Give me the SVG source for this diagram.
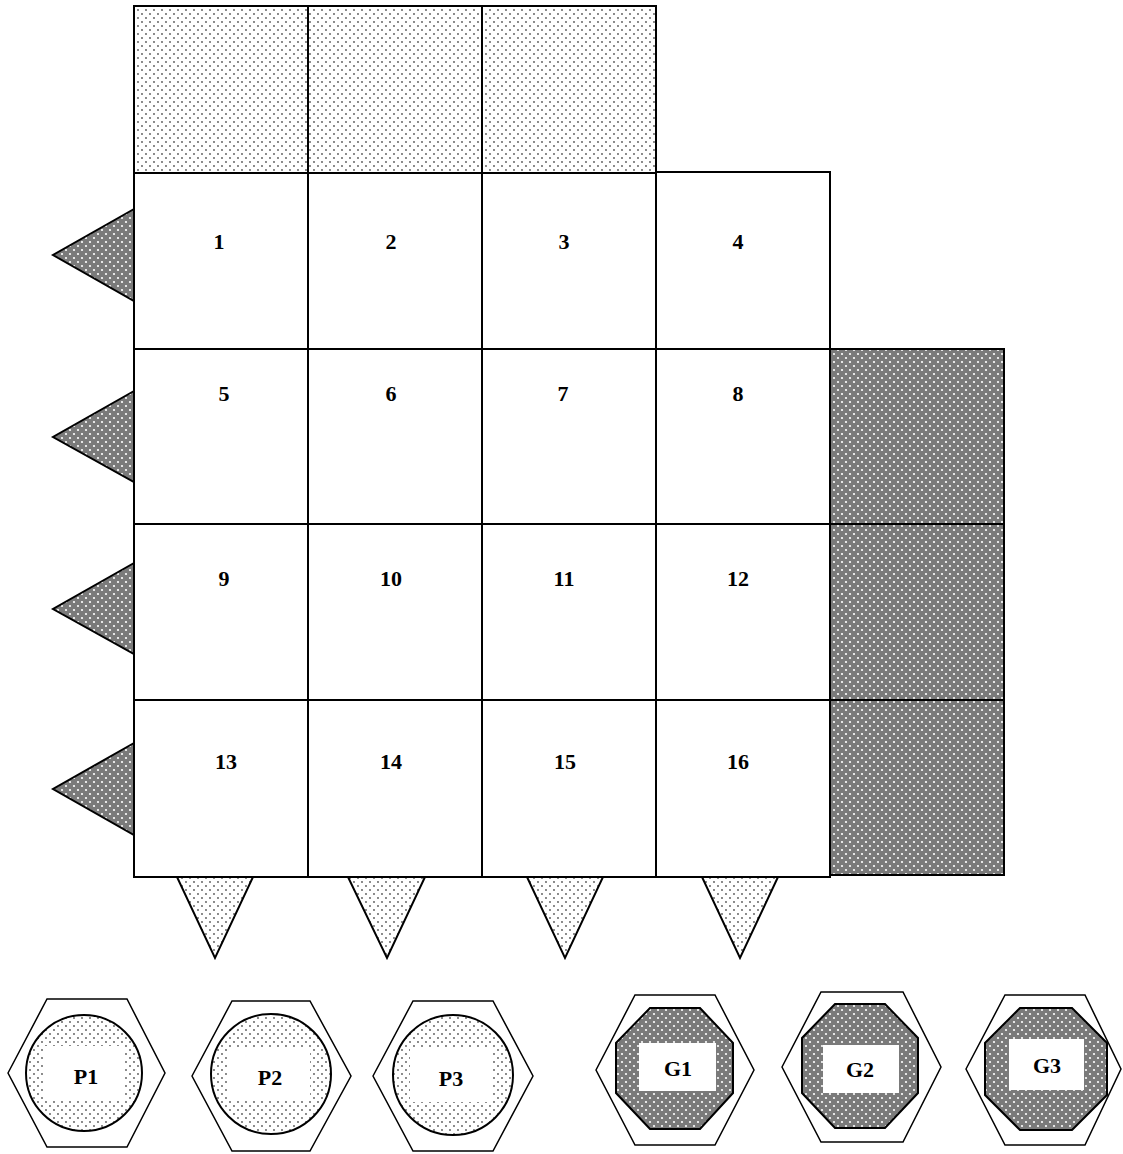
<svg xmlns="http://www.w3.org/2000/svg" width="1123" height="1154" viewBox="0 0 1123 1154">
<defs>
<pattern id="light" width="8" height="8" patternUnits="userSpaceOnUse">
<rect width="8" height="8" fill="#ffffff"/>
<circle cx="2" cy="2" r="0.9" fill="#555"/>
<circle cx="6" cy="6" r="0.9" fill="#555"/>
</pattern>
<pattern id="dark" width="8" height="8" patternUnits="userSpaceOnUse">
<rect width="8" height="8" fill="#7a7a7a"/>
<circle cx="2" cy="2" r="1.1" fill="#ffffff"/>
<circle cx="6" cy="6" r="1.1" fill="#ffffff"/>
</pattern>
</defs>
<style>
.cell{fill:#ffffff;stroke:#000;stroke-width:2}
.lt{fill:url(#light);stroke:#000;stroke-width:2}
.dk{fill:url(#dark);stroke:#000;stroke-width:2}
.hex{fill:#ffffff;stroke:#000;stroke-width:1.5}
.box{fill:#ffffff;stroke:none}
text{font-family:"Liberation Serif","Times New Roman",serif;font-weight:bold;font-size:22px;text-anchor:middle;fill:#000}
</style>
<rect width="1123" height="1154" fill="#ffffff"/>
<g id="top-shaded">
<rect class="lt" x="134" y="6" width="174" height="167"/>
<rect class="lt" x="308" y="6" width="174" height="167"/>
<rect class="lt" x="482" y="6" width="174" height="167"/>
</g>
<g id="right-shaded">
<rect class="dk" x="830" y="349" width="174" height="175"/>
<rect class="dk" x="830" y="524" width="174" height="176"/>
<rect class="dk" x="830" y="700" width="174" height="175"/>
</g>
<g id="cells">
<g id="c1"><rect class="cell" x="134" y="173" width="174" height="176"/><text x="219" y="249">1</text></g>
<g id="c2"><rect class="cell" x="308" y="173" width="174" height="176"/><text x="391" y="249">2</text></g>
<g id="c3"><rect class="cell" x="482" y="173" width="174" height="176"/><text x="564" y="249">3</text></g>
<g id="c4"><rect class="cell" x="656" y="172" width="174" height="177"/><text x="738" y="249">4</text></g>
<g id="c5"><rect class="cell" x="134" y="349" width="174" height="175"/><text x="224" y="401">5</text></g>
<g id="c6"><rect class="cell" x="308" y="349" width="174" height="175"/><text x="391" y="401">6</text></g>
<g id="c7"><rect class="cell" x="482" y="349" width="174" height="175"/><text x="563" y="401">7</text></g>
<g id="c8"><rect class="cell" x="656" y="349" width="174" height="175"/><text x="738" y="401">8</text></g>
<g id="c9"><rect class="cell" x="134" y="524" width="174" height="176"/><text x="224" y="586">9</text></g>
<g id="c10"><rect class="cell" x="308" y="524" width="174" height="176"/><text x="391" y="586">10</text></g>
<g id="c11"><rect class="cell" x="482" y="524" width="174" height="176"/><text x="564" y="586">11</text></g>
<g id="c12"><rect class="cell" x="656" y="524" width="174" height="176"/><text x="738" y="586">12</text></g>
<g id="c13"><rect class="cell" x="134" y="700" width="174" height="177"/><text x="226" y="769">13</text></g>
<g id="c14"><rect class="cell" x="308" y="700" width="174" height="177"/><text x="391" y="769">14</text></g>
<g id="c15"><rect class="cell" x="482" y="700" width="174" height="177"/><text x="565" y="769">15</text></g>
<g id="c16"><rect class="cell" x="656" y="700" width="174" height="177"/><text x="738" y="769">16</text></g>
</g>
<g id="left-triangles">
<polygon class="dk" points="134,209 53,255 134,301"/>
<polygon class="dk" points="134,391 53,437 134,482"/>
<polygon class="dk" points="134,563 53,609 134,654"/>
<polygon class="dk" points="134,743 53,789 134,835"/>
</g>
<g id="bottom-triangles">
<polygon class="lt" points="177,877 253,877 215,958"/>
<polygon class="lt" points="348,877 425,877 387,958"/>
<polygon class="lt" points="527,877 603,877 565,958"/>
<polygon class="lt" points="702,877 778,877 740,958"/>
</g>
<g id="P1">
<polygon class="hex" points="8,1073 47,999 127,999 165,1073 127,1147 47,1147"/>
<circle class="lt" cx="84" cy="1073" r="58"/>
<rect class="box" x="43" y="1046" width="82" height="54"/>
<text x="86" y="1084">P1</text>
</g>
<g id="P2">
<polygon class="hex" points="192,1076 232,1001 310,1001 351,1076 310,1151 232,1151"/>
<circle class="lt" cx="271" cy="1074" r="60"/>
<rect class="box" x="228" y="1047" width="82" height="54"/>
<text x="270" y="1085">P2</text>
</g>
<g id="P3">
<polygon class="hex" points="373,1076 413,1001 493,1001 533,1076 493,1151 413,1151"/>
<circle class="lt" cx="453" cy="1075" r="60"/>
<rect class="box" x="410" y="1048" width="82" height="54"/>
<text x="451" y="1086">P3</text>
</g>
<g id="G1">
<polygon class="hex" points="596,1070 635,995 715,995 754,1070 715,1145 635,1145"/>
<polygon class="dk" points="650,1008 700,1008 733,1043 733,1093 700,1129 650,1129 616,1093 616,1043"/>
<rect class="box" x="639" y="1043" width="77" height="48"/>
<text x="678" y="1076">G1</text>
</g>
<g id="G2">
<polygon class="hex" points="782,1067 821,992 903,992 941,1067 903,1142 821,1142"/>
<polygon class="dk" points="835,1004 885,1004 918,1038 918,1093 885,1128 835,1128 802,1093 802,1038"/>
<rect class="box" x="823" y="1045" width="76" height="48"/>
<text x="860" y="1077">G2</text>
</g>
<g id="G3">
<polygon class="hex" points="966,1069 1005,995 1085,995 1121,1069 1085,1145 1005,1145"/>
<polygon class="dk" points="1020,1008 1072,1008 1107,1043 1107,1095 1072,1130 1020,1130 985,1095 985,1043"/>
<rect class="box" x="1009" y="1039" width="75" height="51"/>
<text x="1047" y="1073">G3</text>
</g>
</svg>
